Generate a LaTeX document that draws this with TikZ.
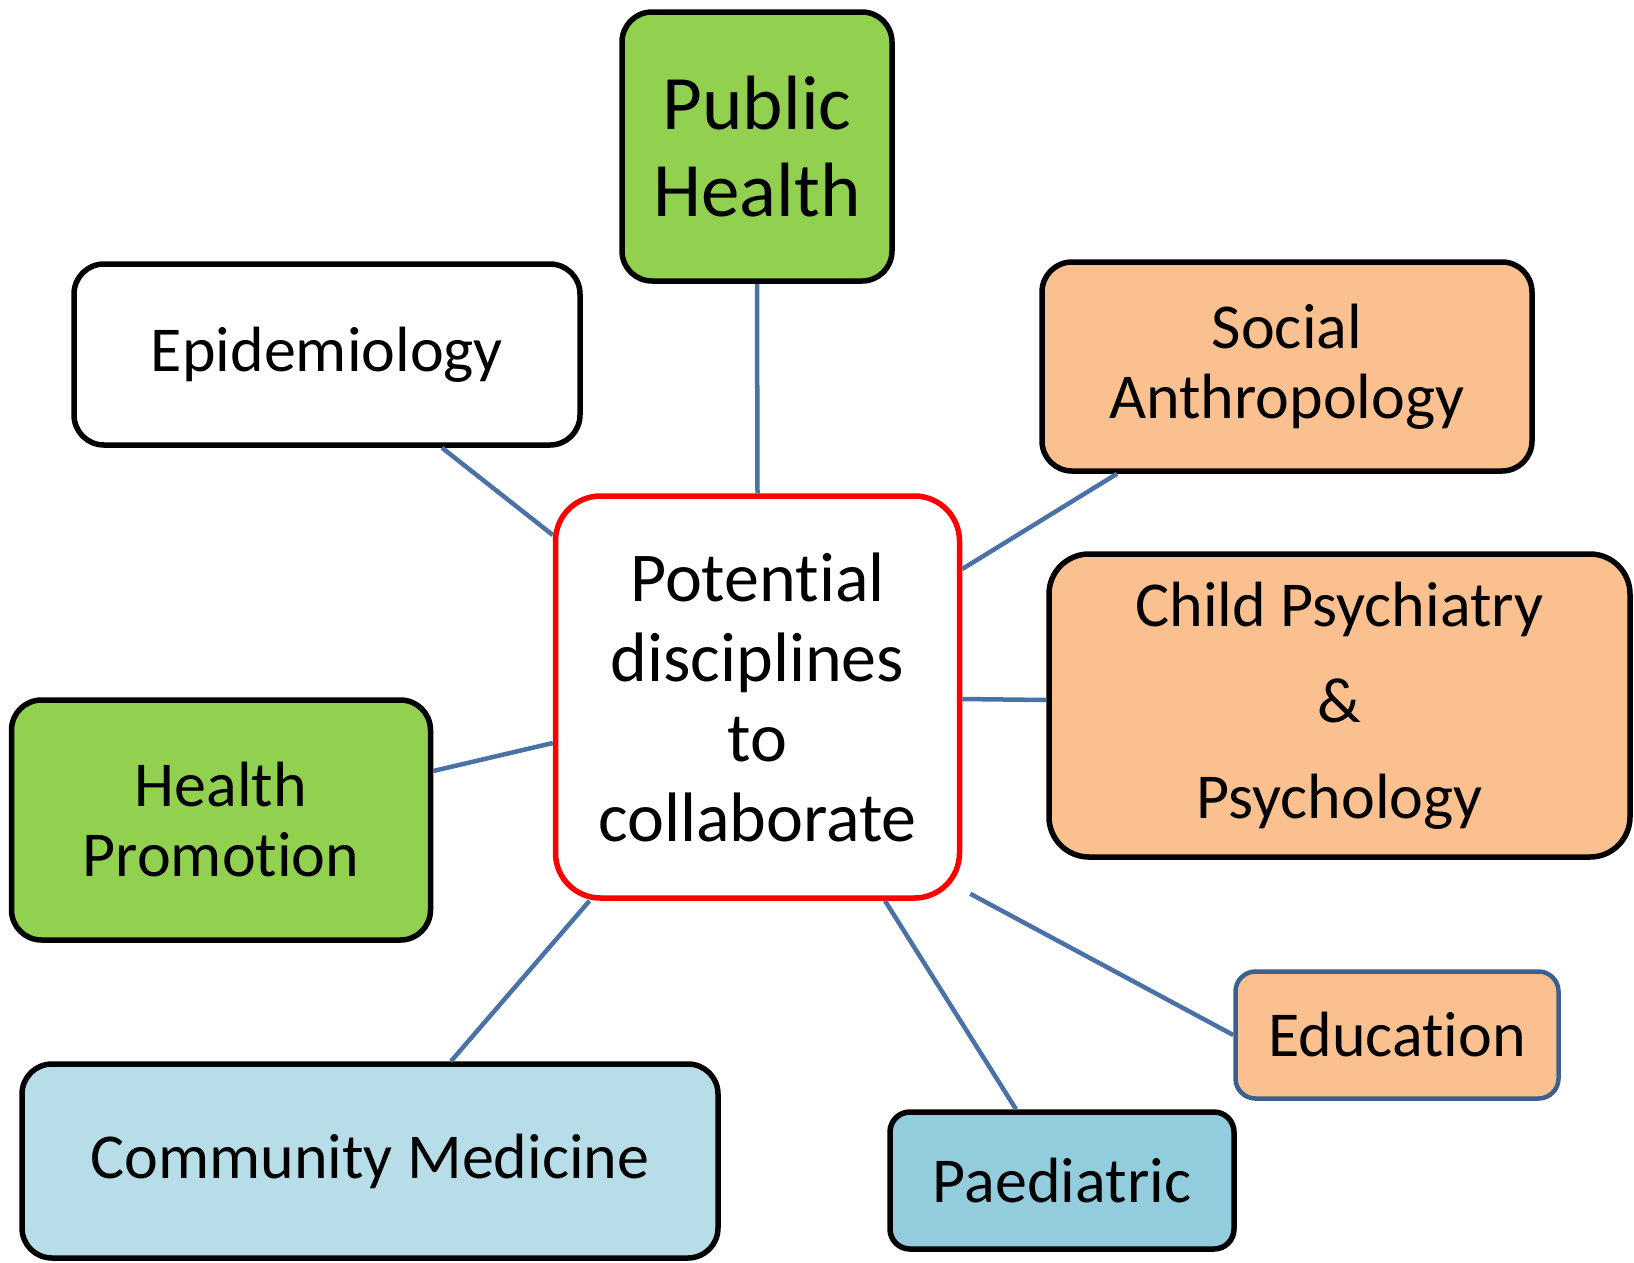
\documentclass[tikz,border=0pt]{standalone}
\usepackage{fontspec}
\setmainfont{Carlito}
\usetikzlibrary{calc}
\definecolor{pgreen}{HTML}{92D050}
\definecolor{porange}{HTML}{FAC090}
\definecolor{plblue}{HTML}{B7DEE8}
\definecolor{pblue}{HTML}{93CDDD}
\definecolor{linkblue}{HTML}{4A72A6}
\definecolor{edborder}{HTML}{3A6090}
\newcommand{\tisep}{t\kern0pt i}
\begin{document}
\begin{tikzpicture}[x=1pt,y=-1pt,
  box/.style={draw=black,line width=5.5pt,rounded corners=30pt,inner sep=0pt,align=center,font=\fontsize{64}{70}\selectfont},
  link/.style={draw=linkblue,line width=4.5pt}]
\useasboundingbox[fill=white] (0,0) rectangle (1634,1262);

\node[box,fill=pgreen,minimum width=270pt,minimum height=269pt,font=\fontsize{77}{87}\selectfont] (ph) at (757,146.5) {Public\\Health};
\node[box,fill=white,minimum width=506pt,minimum height=181pt] (epi) at (327,354.5) {Epidemiology};
\node[box,fill=porange,minimum width=490pt,minimum height=209pt] (sa) at (1287,366.5) {Social\\Anthropology};
\node[box,draw=red,fill=white,minimum width=404pt,minimum height=402pt,rounded corners=45pt,font=\fontsize{70}{80}\selectfont] (cen) at (757.5,697) {Poten\tisep al\\disciplines\\to\\collaborate};
\node[box,fill=porange,minimum width=581pt,minimum height=303pt,rounded corners=40pt,font=\fontsize{64}{96}\selectfont] (cp) at (1339.5,705.5) {Child Psychiatry\\\&\\Psychology};
\node[box,fill=pgreen,minimum width=419pt,minimum height=240pt] (hp) at (221,820) {Health\\Promo\tisep on};
\node[box,fill=plblue,minimum width=696pt,minimum height=194pt] (cm) at (370,1161) {Community Medicine};
\node[box,fill=pblue,minimum width=344pt,minimum height=137pt,rounded corners=20pt] (pa) at (1062,1180.5) {Paediatric};
\node[box,draw=edborder,line width=4.5pt,fill=porange,minimum width=323pt,minimum height=127pt,rounded corners=20pt] (ed) at (1397,1035) {Educa\tisep on};

\draw[link] (ph.south) -- (cen.north);
\draw[link] ($(epi.south)+(115,0)$) -- ($(cen.west)+(0,-162)$);
\draw[link] ($(sa.south)+(-170,0)$) -- ($(cen.east)+(0,-128)$);
\draw[link] ($(cen.east)+(0,2)$) -- ($(cp.west)+(0,-5.5)$);
\draw[link] ($(hp.east)+(0,-49)$) -- ($(cen.west)+(0,46)$);
\draw[link] ($(cm.north)+(81,0)$) -- ($(cen.south)+(-168,0)$);
\draw[link] ($(pa.north)+(-46,0)$) -- ($(cen.south)+(127.5,0)$);
\coordinate (edend) at ($(cen.south east)+(8,-7)$);
\draw[link] (ed.west) -- (edend);
\end{tikzpicture}
\end{document}
